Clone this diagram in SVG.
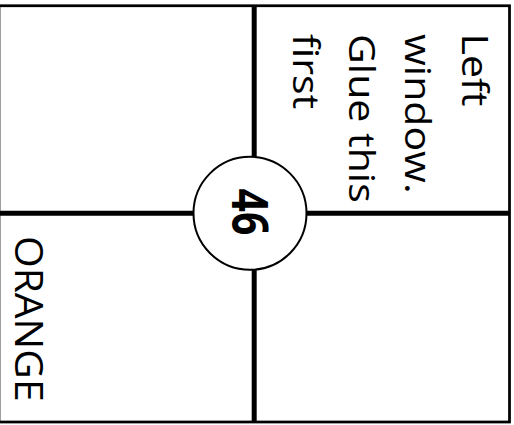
<svg xmlns="http://www.w3.org/2000/svg" width="514" height="425" viewBox="0 0 514 425">
<style>
.frame{fill:none;stroke:#000;stroke-width:2.75}
.div{stroke:#000;stroke-width:5;fill:none}
.lbl{font-family:"Open Sans","Noto Sans",sans-serif;font-size:36px;fill:#000}
.num{font-family:"Open Sans","Noto Sans",sans-serif;font-size:50px;font-weight:bold;fill:#000}
</style>
<rect width="514" height="425" fill="#fff"/>
<g id="connectors">
<rect class="frame" x="-1" y="5.75" width="510.5" height="416.25"/>
<line class="div" x1="254.2" y1="5" x2="254.2" y2="422"/>
<line class="div" x1="0" y1="213.2" x2="509" y2="213.2"/>
</g>
<g id="panel-top-right">
<text class="lbl" transform="translate(461.7,33.5) rotate(90) scale(1.14,1)">Left</text>
<text class="lbl" transform="translate(405.3,34) rotate(90) scale(1.14,1)">window.</text>
<text class="lbl" transform="translate(349,34) rotate(90) scale(1.14,1)">Glue this</text>
<text class="lbl" transform="translate(292.7,34) rotate(90) scale(1.14,1)">first</text>
</g>
<g id="panel-bottom-left">
<text class="lbl" style="font-size:39px" transform="translate(15,236) rotate(90) scale(1.045,1)">ORANGE</text>
</g>
<g id="center-badge">
<circle cx="250" cy="213.3" r="56.5" fill="#fff" stroke="#000" stroke-width="2"/>
<text class="num" text-anchor="middle" transform="translate(232,212) rotate(90) scale(0.82,1)">46</text>
</g>
</svg>
